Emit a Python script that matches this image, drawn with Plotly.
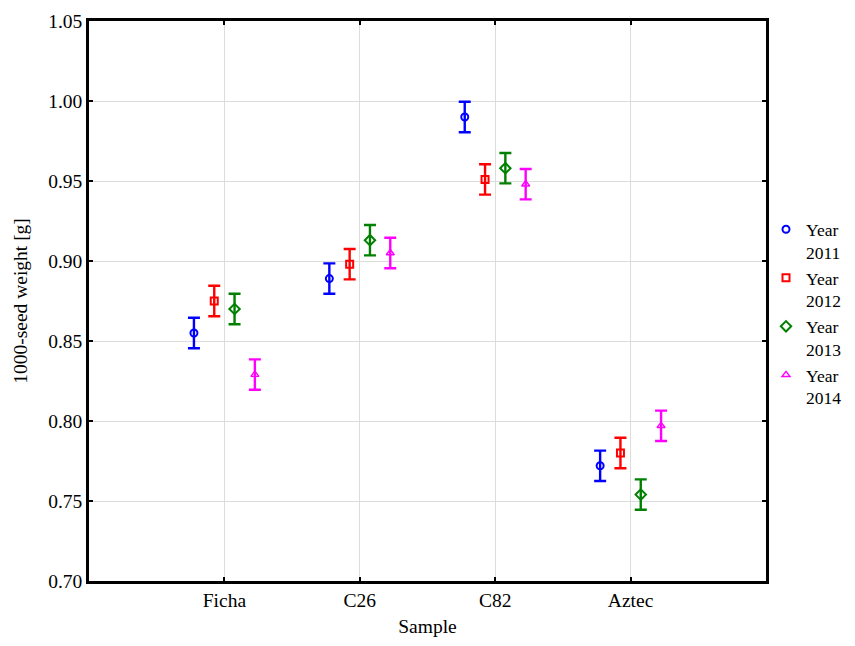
import plotly.graph_objects as go

samples = ["Ficha", "C26", "C82", "Aztec"]
years = ["2011", "2012", "2013", "2014"]
means = {
    "2011": [0.855, 0.889, 0.990, 0.772],
    "2012": [0.875, 0.898, 0.951, 0.780],
    "2013": [0.870, 0.913, 0.958, 0.754],
    "2014": [0.829, 0.905, 0.948, 0.797],
}
errs = {
    "2011": [0.0095, 0.0095, 0.0095, 0.0095],
    "2012": [0.0095, 0.0095, 0.0095, 0.0095],
    "2013": [0.0095, 0.0095, 0.0095, 0.0095],
    "2014": [0.0095, 0.0095, 0.0095, 0.0095],
}
offsets = [-0.225, -0.075, 0.075, 0.225]
colors = ["#0000ff", "#ff0000", "#008000", "#ff00ff"]
symbols = ["circle-open", "square-open", "diamond-open", "triangle-up-open"]
msizes = [7, 7, 8, 7]

FONT = "Liberation Serif, Times New Roman, serif"
FS = 19.5
fig = go.Figure()
for i, yr in enumerate(years):
    fig.add_trace(go.Scatter(
        x=[k + offsets[i] for k in range(len(samples))],
        y=means[yr],
        mode="markers",
        name=f"Year<br>{yr}",
        marker=dict(symbol=symbols[i], size=msizes[i], color=colors[i],
                    line=dict(width=2 if i < 3 else 1.4, color=colors[i])),
        error_y=dict(type="data", array=errs[yr], visible=True, color=colors[i], thickness=2.4, width=6),
    ))

axis_common = dict(
    showline=True, linecolor="black", linewidth=2.5, mirror="ticks",
    ticks="inside", ticklen=4, tickwidth=2, tickcolor="black",
    showgrid=True, gridcolor="#dcdcdc", gridwidth=1, zeroline=False, automargin=False,
    tickfont=dict(family=FONT, size=FS, color="black"),
)
W, H = 839, 630
fig.update_layout(
    width=W, height=H,
    paper_bgcolor="white", plot_bgcolor="white",
    margin=dict(l=81, r=W - 758, t=13, b=H - 573, autoexpand=False),
    font=dict(family=FONT, size=FS, color="black"),
    xaxis=dict(range=[-1, 4], tickvals=list(range(len(samples))), ticktext=samples,
               title=dict(text="Sample", font=dict(family=FONT, size=FS), standoff=10), **axis_common),
    yaxis=dict(range=[0.70, 1.05], dtick=0.05, tickformat=".2f",
               title=dict(text="1000-seed weight [g]", font=dict(family=FONT, size=FS), standoff=16), **axis_common),
    legend=dict(x=1.0, xanchor="left", y=0.66, yanchor="top", font=dict(family=FONT, size=17.5),
                tracegroupgap=0, itemwidth=30, valign="top", bgcolor="rgba(0,0,0,0)"),
    showlegend=True,
)
fig.write_html("out.html")
